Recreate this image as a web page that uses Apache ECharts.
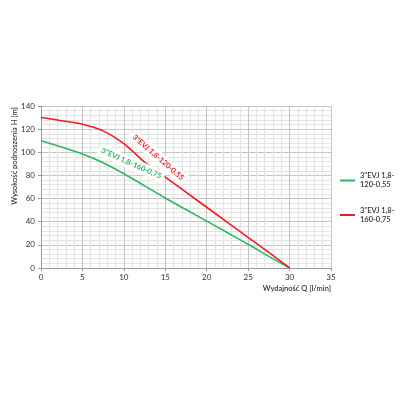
<!DOCTYPE html>
<html>
<head>
<meta charset="utf-8">
<script src="https://cdn.jsdelivr.net/npm/echarts@6/dist/echarts.min.js"></script>
<style>
  html, body { margin: 0; padding: 0; background: #fff; }
  #chart { width: 400px; height: 400px; }
</style>
</head>
<body>
<div id="chart"></div>
<script>
// flow Q [l/min] and head H [m]
const flow = [0, 2.5, 5, 7.5, 10, 12.5, 15, 17.5, 20, 22.5, 25, 27.5, 30]
const headGreen = [110, 104.5, 98.5, 91, 81.5, 71, 60.5, 50.5, 40.5, 30.5, 20.5, 10, 0]
const headRed = [130, 127.3, 124.3, 118.5, 107.5, 91.5, 78.5, 65.5, 52.5, 39.5, 26.5, 13.5, 0]

const legendNames = ['3"EVJ 1,8-\n120-0,55', '3"EVJ 1,8-\n160-0,75']
// curve captions as printed on the chart: [text, Q, H, angle]
const captionRed = ['3"EVJ 1,8-120-0,55', 14.15, 95.6, -41]
const captionGreen = ['3"EVJ 1,8-160-0,75', 10.9, 90.4, -24]

const xTitle = 'Wydajność Q [l/min]'
const yTitle = 'Wysokość podnoszenia H [m]'

const font = 'Lato, "Open Sans", sans-serif'
const green = '#2bb565'
const red = '#ee1d23'

const pairs = (ys) => flow.map((q, i) => [q, ys[i]])

const caption = (c, color) => ({
  symbol: 'rect',
  symbolSize: 0,
  data: [{ coord: [c[1], c[2]] }],
  label: {
    show: true,
    position: 'inside',
    formatter: c[0],
    rotate: c[3],
    color: color,
    fontFamily: font,
    fontSize: 7.5,
    fontWeight: 'bold',
    backgroundColor: '#fff',
    padding: [2, 3]
  }
})

const chart = echarts.init(document.getElementById('chart'))

const option = {
  animation: false,
  textStyle: { fontFamily: font },
  grid: { left: 41, right: 69, top: 106, bottom: 132 },
  legend: {
    orient: 'vertical',
    left: 340,
    top: 167,
    padding: 0,
    itemGap: 7.5,
    itemWidth: 15,
    itemHeight: 2,
    icon: 'rect',
    data: legendNames,
    textStyle: {
      fontFamily: font,
      fontSize: 7.5,
      fontWeight: 600,
      color: '#333',
      lineHeight: 9,
      padding: [9, 0, 0, 0]
    }
  },
  xAxis: {
    type: 'value',
    min: 0,
    max: 35,
    interval: 5,
    axisLine: { lineStyle: { color: '#9a9a9a' } },
    axisTick: { show: true, length: 3, lineStyle: { color: '#9a9a9a' } },
    axisLabel: { fontSize: 8, color: '#333', margin: 5, fontFamily: font },
    splitLine: { show: true, lineStyle: { color: '#c4c4c4', width: 1 } },
    minorSplitLine: { show: true, lineStyle: { color: '#e3e3e3', width: 1 } },
    minorTick: { show: false, splitNumber: 5 }
  },
  yAxis: {
    type: 'value',
    min: 0,
    max: 140,
    interval: 20,
    axisLine: { show: true, lineStyle: { color: '#9a9a9a' } },
    axisTick: { show: true, length: 3, lineStyle: { color: '#9a9a9a' } },
    axisLabel: { fontSize: 8, color: '#333', margin: 6, fontFamily: font },
    splitLine: { show: true, lineStyle: { color: '#c4c4c4', width: 1 } },
    minorSplitLine: { show: true, lineStyle: { color: '#e3e3e3', width: 1 } },
    minorTick: { show: false, splitNumber: 5 }
  },
  graphic: [
    {
      type: 'text',
      x: 15,
      y: 156,
      rotation: Math.PI / 2,
      style: {
        text: yTitle,
        fill: '#333',
        font: '600 7.5px ' + font,
        textAlign: 'center',
        textVerticalAlign: 'middle'
      }
    },
    {
      type: 'text',
      x: 331,
      y: 289,
      style: {
        text: xTitle,
        fill: '#333',
        font: '600 7.5px ' + font,
        textAlign: 'right',
        textVerticalAlign: 'middle'
      }
    }
  ],
  series: [
    {
      name: legendNames[0],
      type: 'line',
      data: pairs(headGreen),
      smooth: 0.3,
      showSymbol: false,
      color: green,
      lineStyle: { color: green, width: 1.6 },
      markPoint: caption(captionGreen, green)
    },
    {
      name: legendNames[1],
      type: 'line',
      data: pairs(headRed),
      smooth: 0.3,
      showSymbol: false,
      color: red,
      lineStyle: { color: red, width: 1.6 },
      markPoint: caption(captionRed, red)
    }
  ]
}

chart.setOption(option)
</script>
</body>
</html>
